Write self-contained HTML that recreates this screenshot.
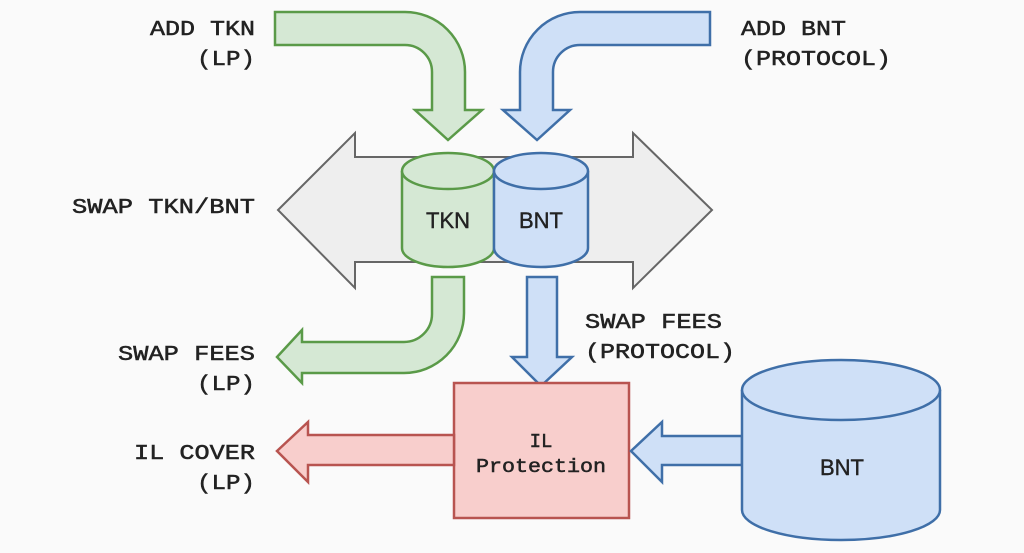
<!DOCTYPE html>
<html><head><meta charset="utf-8"><style>
html,body{margin:0;padding:0;background:#fafafa;}
svg{display:block}
.m{font-family:"Liberation Mono",monospace;font-size:21px;fill:#222;stroke:#222;stroke-width:0.5;}
.s{font-family:"Liberation Sans",sans-serif;font-size:22px;fill:#222;stroke:#222;stroke-width:0.4;}
</style></head><body>
<svg width="1024" height="553" viewBox="0 0 1024 553" xmlns="http://www.w3.org/2000/svg">
<rect width="1024" height="553" fill="#fafafa"/>
<path d="M278,210 L355,133 V157 H633 V133 L712,210 L633,288 V262 H355 V288 Z" fill="#eeeeee" stroke="#666" stroke-width="2"/>
<path d="M402,171 V248 A46,19 0 0 0 494,248 V171" fill="#d5e8d4" stroke="#5a9a48" stroke-width="2.5"/>
<ellipse cx="448" cy="171" rx="46" ry="18" fill="#d5e8d4" stroke="#5a9a48" stroke-width="2.5"/>
<path d="M494,171 V248 A47,19 0 0 0 588,248 V171" fill="#cfe0f7" stroke="#3f6fa8" stroke-width="2.5"/>
<ellipse cx="541" cy="171" rx="47" ry="18" fill="#cfe0f7" stroke="#3f6fa8" stroke-width="2.5"/>
<text class="s" x="448" y="228" text-anchor="middle">TKN</text>
<text class="s" x="541" y="228" text-anchor="middle">BNT</text>
<path d="M275,12 H405 A60,60 0 0 1 465,72 V110 H482 L448,140 L415,110 H432 V72 A27,27 0 0 0 405,45 H275 Z" fill="#d5e8d4" stroke="#5a9a48" stroke-width="2.5"/>
<path d="M710,12 H580 A60,60 0 0 0 520,72 V110 H503 L537,140 L570,110 H553 V72 A27,27 0 0 1 580,45 H710 Z" fill="#cfe0f7" stroke="#3f6fa8" stroke-width="2.5"/>
<path d="M432,277 H464 V313 A60,60 0 0 1 404,373 H302 V383 L277,357 L302,330 V342 H404 A28,28 0 0 0 432,314 Z" fill="#d5e8d4" stroke="#5a9a48" stroke-width="2.5"/>
<path d="M527,277 H557 V357 H572 L541,386 L512,357 H527 Z" fill="#cfe0f7" stroke="#3f6fa8" stroke-width="2.5"/>
<rect x="454" y="383" width="175" height="135" fill="#f8cecc" stroke="#b85450" stroke-width="2.5"/>
<text class="m" x="541" y="447" text-anchor="middle" style="font-size:19px">IL</text>
<text class="m" x="476" y="472" style="font-size:19px" textLength="130" lengthAdjust="spacingAndGlyphs">Protection</text>
<path d="M454,435 H308 V422 L277,451 L308,482 V465 H454 Z" fill="#f8cecc" stroke="#b85450" stroke-width="2.5"/>
<path d="M742,436 H662 V422 L631,451 L662,482 V465 H742 Z" fill="#cfe0f7" stroke="#3f6fa8" stroke-width="2.5"/>
<path d="M742,390 V510 A99,30 0 0 0 940,510 V390" fill="#cfe0f7" stroke="#3f6fa8" stroke-width="2.5"/>
<ellipse cx="841" cy="390" rx="99" ry="30" fill="#cfe0f7" stroke="#3f6fa8" stroke-width="2.5"/>
<text class="s" x="842" y="475" text-anchor="middle">BNT</text>
<text class="m" x="150" y="35" textLength="105" lengthAdjust="spacingAndGlyphs">ADD TKN</text>
<text class="m" x="197" y="65" textLength="58" lengthAdjust="spacingAndGlyphs">(LP)</text>
<text class="m" x="741" y="35" textLength="105" lengthAdjust="spacingAndGlyphs">ADD BNT</text>
<text class="m" x="741" y="65" textLength="150" lengthAdjust="spacingAndGlyphs">(PROTOCOL)</text>
<text class="m" x="72" y="213" textLength="183" lengthAdjust="spacingAndGlyphs">SWAP TKN/BNT</text>
<text class="m" x="118" y="360" textLength="137" lengthAdjust="spacingAndGlyphs">SWAP FEES</text>
<text class="m" x="197" y="390" textLength="58" lengthAdjust="spacingAndGlyphs">(LP)</text>
<text class="m" x="134" y="459" textLength="121" lengthAdjust="spacingAndGlyphs">IL COVER</text>
<text class="m" x="197" y="489" textLength="58" lengthAdjust="spacingAndGlyphs">(LP)</text>
<text class="m" x="585" y="328" textLength="137" lengthAdjust="spacingAndGlyphs">SWAP FEES</text>
<text class="m" x="585" y="358" textLength="150" lengthAdjust="spacingAndGlyphs">(PROTOCOL)</text>
</svg>
</body></html>
